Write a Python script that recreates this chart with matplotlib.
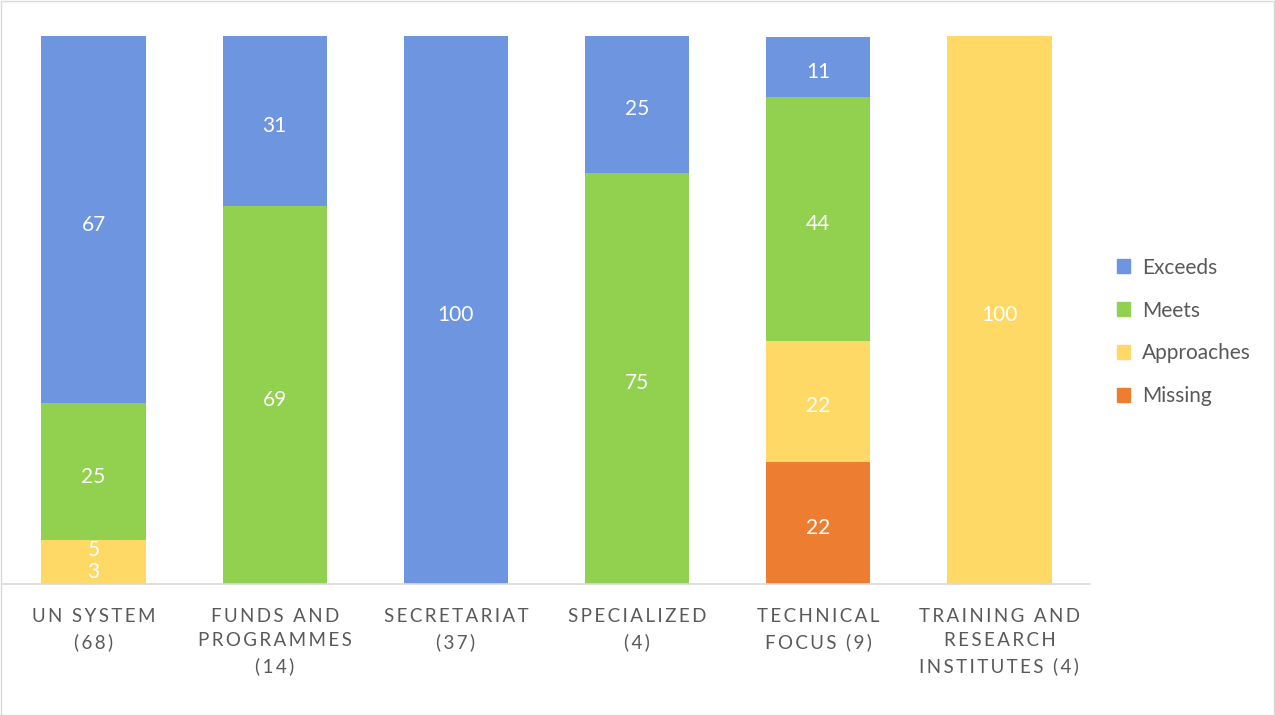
import matplotlib
matplotlib.use("Agg")
import matplotlib.pyplot as plt
from matplotlib.patches import Rectangle, Patch
import numpy as np

plt.rcParams['font.family'] = ['Lato', 'DejaVu Sans']

categories = [
    "UN SYSTEM\n(68)",
    "FUNDS AND\nPROGRAMMES\n(14)",
    "SECRETARIAT\n(37)",
    "SPECIALIZED\n(4)",
    "TECHNICAL\nFOCUS (9)",
    "TRAINING AND\nRESEARCH\nINSTITUTES (4)",
]
series_names = ["Exceeds", "Meets", "Approaches", "Missing"]
missing = [3, 0, 0, 0, 22.2, 0]
approaches = [5, 0, 0, 0, 22.2, 100]
meets = [25, 69, 0, 75, 44.4, 0]
exceeds = [67, 31, 100, 25, 11.1, 0]

colors = {
    "Exceeds": "#6E95DF",
    "Meets": "#92D050",
    "Approaches": "#FFD966",
    "Missing": "#ED7D31",
}
# the UN System missing share is shaded like the approaches share
missing_colors = [colors["Approaches"]] + [colors["Missing"]] * 5


def spaced(label):
    return "\n".join("\u2009".join(line) for line in label.split("\n"))


fig = plt.figure(figsize=(12.75, 7.15), dpi=100)
fig.patches.append(Rectangle((0.5 / 1275, 0.5 / 715), 1 - 1.5 / 1275, 1 - 1.5 / 715,
                             transform=fig.transFigure, fill=False,
                             edgecolor="#D9D9D9", linewidth=1))
ax = fig.add_axes([3 / 1275, 1 - 584 / 715, 1087 / 1275, 548 / 715])

x = np.arange(len(categories))
width = 0.575
bottom = np.zeros(len(categories))
stack = [("Missing", missing, missing_colors),
         ("Approaches", approaches, colors["Approaches"]),
         ("Meets", meets, colors["Meets"]),
         ("Exceeds", exceeds, colors["Exceeds"])]
for name, vals, col in stack:
    vals = np.array(vals, dtype=float)
    ax.bar(x, vals, width, bottom=bottom, color=col, linewidth=0)
    for xi, v, b in zip(x, vals, bottom):
        if v > 0:
            shift = 0.7 if v < 6 else -0.9
            ax.text(xi, b + v / 2 + shift, f"{v:.0f}", ha="center", va="center",
                    color="white", fontsize=15)
    bottom += vals

ax.set_xlim(-0.5, len(categories) - 0.5)
ax.set_ylim(0, 100)
ax.set_yticks([])
ax.set_xticks(x)
ax.set_xticklabels([spaced(c) for c in categories], fontsize=13.5,
                   color="#595959", linespacing=1.55)
ax.tick_params(axis="x", length=0, pad=17)
for s in ["top", "right", "left"]:
    ax.spines[s].set_visible(False)
ax.spines["bottom"].set_color("#D9D9D9")
ax.spines["bottom"].set_linewidth(1.2)

leg_handles = [Patch(color=colors[n]) for n in series_names]
fig.legend(leg_handles, series_names, loc="center left",
           bbox_to_anchor=(1098 / 1275, 1 - 332 / 715), frameon=False,
           fontsize=15, labelcolor="#595959", handlelength=0.65,
           handleheight=0.65, handletextpad=0.55, labelspacing=1.1)

fig.savefig("out.png", dpi=100, facecolor="white")
